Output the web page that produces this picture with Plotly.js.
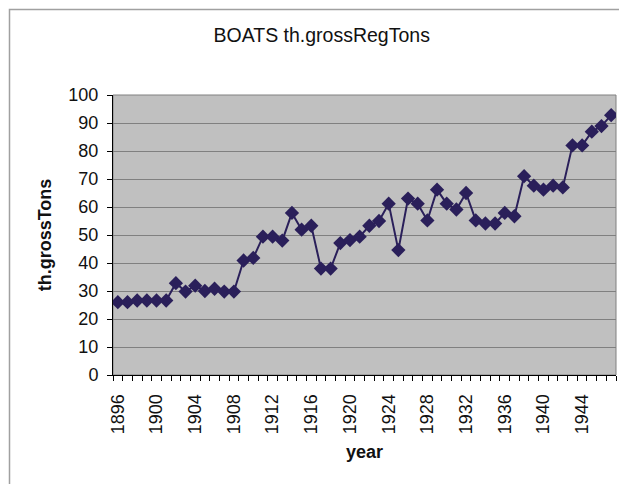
<!DOCTYPE html>
<html>
<head>
<meta charset="utf-8">
<script src="https://cdn.plot.ly/plotly-3.0.1.min.js"></script>
<style>html,body{margin:0;padding:0;background:#fff;}#chart{width:619px;height:484px;}</style>
</head>
<body>
<div id="chart"></div>
<script>
const years = [1896,1897,1898,1899,1900,1901,1902,1903,1904,1905,1906,1907,1908,1909,1910,1911,1912,1913,1914,1915,1916,1917,1918,1919,1920,1921,1922,1923,1924,1925,1926,1927,1928,1929,1930,1931,1932,1933,1934,1935,1936,1937,1938,1939,1940,1941,1942,1943,1944,1945,1946,1947];
const grossTons = [26.0,26.0,26.6,26.6,26.6,26.6,32.8,29.8,31.9,30.0,30.8,29.8,29.8,40.9,41.8,49.4,49.4,48.0,57.9,51.9,53.3,38.0,38.0,47.1,48.2,49.4,53.3,55.0,61.2,44.6,63.0,61.2,55.2,66.2,61.2,59.1,65.0,55.2,54.1,54.1,57.9,56.7,71.0,67.6,66.2,67.6,67.0,82.0,82.0,86.9,88.9,92.8];
const xTickVals = [1896,1900,1904,1908,1912,1916,1920,1924,1928,1932,1936,1940,1944];
const xTickText = xTickVals.map(String);
const yTickVals = [0,10,20,30,40,50,60,70,80,90,100];

const W = 619, H = 484;
const L = 113, R = 3, T = 95, B = 109;
const pw = W - L - R, ph = H - T - B;
function px2paperX(px){ return (px - L) / pw; }
function py2paperY(py){ return (H - B - py) / ph; }

const trace = {
  x: years, y: grossTons, type: 'scatter', mode: 'lines+markers',
  line: {color: '#2a1f5a', width: 2},
  marker: {symbol: 'diamond', size: 11, color: '#2a1f5a'},
  hoverinfo: 'x+y'
};

const font = {family: 'Liberation Sans, Arial, sans-serif', color: '#000'};

const layout = {
  width: W, height: H,
  margin: {l: L, r: R, t: T, b: B, pad: 0},
  paper_bgcolor: '#ffffff',
  plot_bgcolor: '#c0c0c0',
  showlegend: false,
  font: font,
  title: {
    text: 'BOATS th.grossRegTons',
    font: {family: font.family, size: 19.5, color: '#111'},
    x: 321.7 / W, xref: 'container', xanchor: 'center',
    y: 1 - 35/H, yref: 'container', yanchor: 'middle'
  },
  xaxis: {
    range: [years[0] - 0.5, years[years.length-1] + 0.5],
    tickmode: 'array', tickvals: xTickVals, ticktext: xTickText,
    tickangle: -90,
    tickfont: {family: font.family, size: 18, color: '#111'},
    ticks: '',
    ticklabelstandoff: 11,
    minor: {tick0: years[0] - 0.5, dtick: 1, ticks: 'outside', ticklen: 5, tickcolor: '#000', tickwidth: 1, showgrid: false},
    showgrid: false, zeroline: false,
    showline: true, linecolor: '#000', linewidth: 1, mirror: false,
    title: {text: 'year', font: {family: font.family, size: 18, color: '#111', weight: 'bold'}, standoff: 12},
    fixedrange: true
  },
  yaxis: {
    range: [0, 100],
    tickmode: 'array', tickvals: yTickVals,
    tickfont: {family: font.family, size: 18, color: '#111'},
    ticks: 'outside', ticklen: 5, tickcolor: '#000', tickwidth: 1,
    ticklabelstandoff: 5,
    showgrid: true, gridcolor: '#808080', gridwidth: 1,
    zeroline: false,
    showline: true, linecolor: '#000', linewidth: 1,
    title: {text: 'th.grossTons', font: {family: font.family, size: 18, color: '#111', weight: 'bold'}, standoff: 12},
    fixedrange: true
  },
  shapes: [
    {type: 'rect', xref: 'paper', yref: 'paper', x0: 0, x1: 1, y0: 0, y1: 1,
     line: {color: '#808080', width: 1}, fillcolor: 'rgba(0,0,0,0)', layer: 'below'},
    {type: 'rect', xref: 'paper', yref: 'paper',
     x0: px2paperX(9.5), x1: px2paperX(640), y0: py2paperY(500), y1: py2paperY(9.5),
     line: {color: '#a0a0a0', width: 1.5}, fillcolor: 'rgba(0,0,0,0)'}
  ]
};

Plotly.newPlot('chart', [trace], layout, {displayModeBar: false, staticPlot: true});
</script>
</body>
</html>
